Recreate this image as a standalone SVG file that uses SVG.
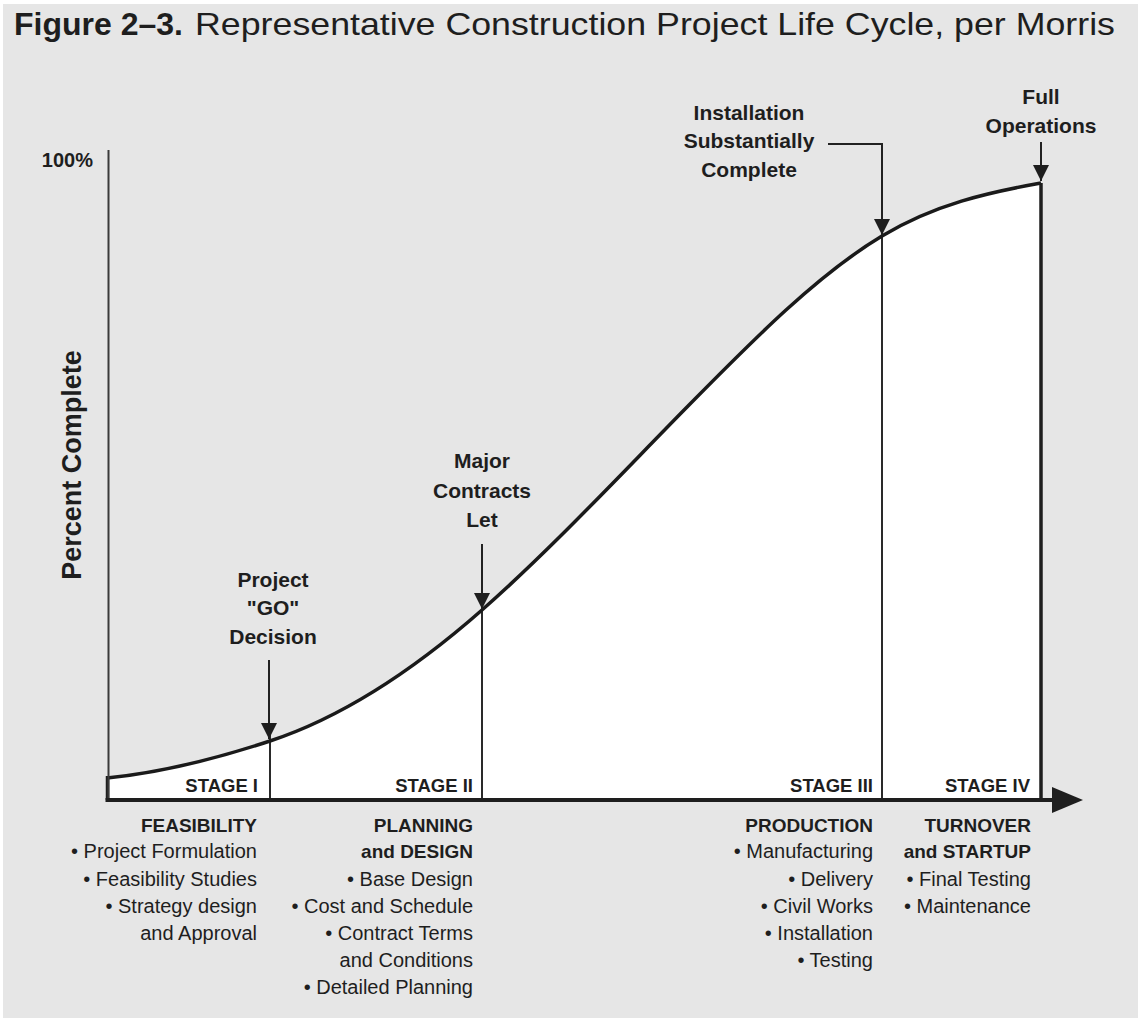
<svg xmlns="http://www.w3.org/2000/svg" width="1138" height="1018" viewBox="0 0 1138 1018">
<defs>
<style>
.t{font-family:"Liberation Sans",Arial,Helvetica,sans-serif;fill:#1e1e1e}
.call{font-size:21px;font-weight:bold;text-anchor:middle}
.stage{font-size:18.5px;font-weight:bold;text-anchor:end}
.hd{font-size:19px;font-weight:bold;text-anchor:end}
.it{font-size:20px;text-anchor:end}
.ln{stroke:#222;fill:none;stroke-width:2}
.vl{stroke:#2a2a2a;stroke-width:2;fill:none}
</style>
<marker id="ah" viewBox="0 0 16 16" refX="16" refY="8" markerWidth="16" markerHeight="16" markerUnits="userSpaceOnUse" orient="auto">
<path d="M0,0 L16,8 L0,16 Z" fill="#1e1e1e"/>
</marker>
</defs>
<rect x="0" y="0" width="1138" height="1018" fill="#ffffff"/>
<rect x="3" y="4" width="1135" height="1014" fill="#e6e6e6"/>

<g id="title">
<text class="t" x="14" y="35" font-size="32"><tspan font-weight="bold">Figure 2–3.</tspan><tspan x="195" textLength="920" lengthAdjust="spacingAndGlyphs">Representative Construction Project Life Cycle, per Morris</tspan></text>
</g>

<g id="chart-area">
<path d="M107,778 C161.3,772.6 215.7,758.9 270,741 C340.7,717.7 411.3,672.2 482,610 C551.3,549 620.7,474.3 690,404 C754,339 818,274.4 882,236 C935,204.2 988,192.5 1041,183 L1041,800 L107,800 Z" fill="#ffffff"/>
<line class="vl" x1="270" y1="735" x2="270" y2="800"/>
<line class="vl" x1="482" y1="605" x2="482" y2="800"/>
<line class="vl" x1="882" y1="230" x2="882" y2="800"/>
<line x1="1041" y1="183" x2="1041" y2="800" stroke="#1e1e1e" stroke-width="3.5"/>
<line x1="107.5" y1="776" x2="107.5" y2="800" stroke="#1e1e1e" stroke-width="3.5"/>
<path id="curve" d="M107,778 C161.3,772.6 215.7,758.9 270,741 C340.7,717.7 411.3,672.2 482,610 C551.3,549 620.7,474.3 690,404 C754,339 818,274.4 882,236 C935,204.2 988,192.5 1041,183" fill="none" stroke="#1a1a1a" stroke-width="3.5"/>
</g>

<g id="y-axis">
<line x1="108.5" y1="150" x2="108.5" y2="800" stroke="#3a3a3a" stroke-width="2"/>
<text class="t" x="93" y="167" font-size="20" font-weight="bold" text-anchor="end">100%</text>
<text class="t" transform="translate(81,465) rotate(-90)" font-size="27" font-weight="bold" text-anchor="middle">Percent Complete</text>
</g>

<g id="x-axis">
<line x1="105.5" y1="800" x2="1054" y2="800" stroke="#1e1e1e" stroke-width="4"/>
<polygon points="1052,787 1083,800 1052,813" fill="#1e1e1e"/>
</g>

<g id="stage-labels">
<text class="t stage" x="258" y="792">STAGE I</text>
<text class="t stage" x="473" y="792">STAGE II</text>
<text class="t stage" x="873" y="792">STAGE III</text>
<text class="t stage" x="1030" y="792">STAGE IV</text>
</g>

<g id="callout-go">
<text class="t call" x="273" y="587">Project</text>
<text class="t call" x="273" y="615">"GO"</text>
<text class="t call" x="273" y="644">Decision</text>
</g>
<g id="callout-contracts">
<text class="t call" x="482" y="468">Major</text>
<text class="t call" x="482" y="498">Contracts</text>
<text class="t call" x="482" y="527">Let</text>
</g>
<g id="callout-installation">
<text class="t call" x="749" y="120">Installation</text>
<text class="t call" x="749" y="148">Substantially</text>
<text class="t call" x="749" y="177">Complete</text>
</g>
<g id="callout-full">
<text class="t call" x="1041" y="104">Full</text>
<text class="t call" x="1041" y="133">Operations</text>
</g>

<g id="connectors">
<path class="ln" d="M269,660 V739" marker-end="url(#ah)"/>
<path class="ln" d="M482,544 V609" marker-end="url(#ah)"/>
<path class="ln" d="M828,144 H882 V235" marker-end="url(#ah)"/>
<path class="ln" d="M1041,142 V181" marker-end="url(#ah)"/>
</g>

<g id="stage1-desc">
<text class="t hd" x="257" y="832">FEASIBILITY</text>
<text class="t it" x="257" y="858">• Project Formulation</text>
<text class="t it" x="257" y="886">• Feasibility Studies</text>
<text class="t it" x="257" y="913">• Strategy design</text>
<text class="t it" x="257" y="940">and Approval</text>
</g>
<g id="stage2-desc">
<text class="t hd" x="473" y="832">PLANNING</text>
<text class="t hd" x="473" y="858">and DESIGN</text>
<text class="t it" x="473" y="886">• Base Design</text>
<text class="t it" x="473" y="913">• Cost and Schedule</text>
<text class="t it" x="473" y="940">• Contract Terms</text>
<text class="t it" x="473" y="967">and Conditions</text>
<text class="t it" x="473" y="994">• Detailed Planning</text>
</g>
<g id="stage3-desc">
<text class="t hd" x="873" y="832">PRODUCTION</text>
<text class="t it" x="873" y="858">• Manufacturing</text>
<text class="t it" x="873" y="886">• Delivery</text>
<text class="t it" x="873" y="913">• Civil Works</text>
<text class="t it" x="873" y="940">• Installation</text>
<text class="t it" x="873" y="967">• Testing</text>
</g>
<g id="stage4-desc">
<text class="t hd" x="1031" y="832">TURNOVER</text>
<text class="t hd" x="1031" y="858">and STARTUP</text>
<text class="t it" x="1031" y="886">• Final Testing</text>
<text class="t it" x="1031" y="913">• Maintenance</text>
</g>
</svg>
